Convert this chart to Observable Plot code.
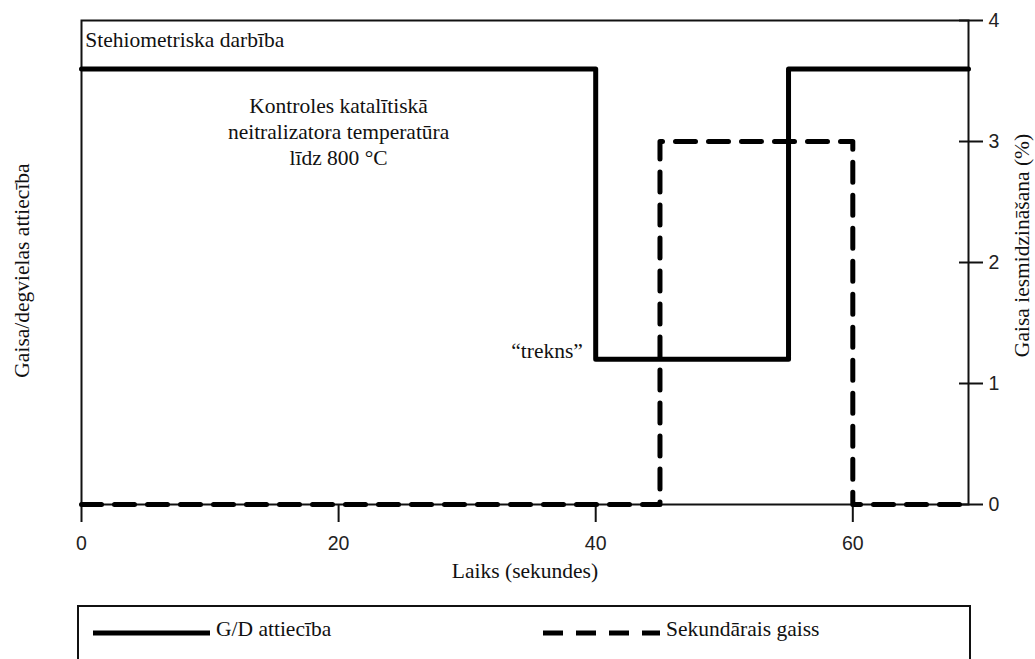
<!DOCTYPE html>
<html>
<head>
<meta charset="utf-8">
<script src="https://cdn.jsdelivr.net/npm/d3@7"></script>
<script src="https://cdn.jsdelivr.net/npm/@observablehq/plot@0.6"></script>
<style>
  html, body { margin: 0; padding: 0; background: #fff; }
  #wrap { position: relative; width: 1035px; height: 659px; overflow: hidden; }
  #chart svg { display: block; }
  #legend {
    position: absolute; left: 77px; top: 605px; width: 894px; height: 80px;
    border: 2px solid #111; box-sizing: border-box; background: #fff;
    font-family: "Liberation Serif", "Times New Roman", serif; font-size: 21.5px; color: #111;
  }
  .item { position: absolute; top: 10px; display: flex; align-items: center; }
  .item svg { display: block; margin-right: 6px; }
</style>
</head>
<body>
<div id="wrap">
  <div id="chart"></div>
  <div id="legend"></div>
</div>
<script>
// ---- data ----
const gdTime = [0, 40, 55, 69];
const gdValue = [3.6, 1.2, 3.6, 3.6];          // G/D attiecība (step)
const saTime = [0, 45, 60, 69];
const saValue = [0, 3, 0, 0];                  // Sekundārais gaiss (%)
const xTicks = [0, 20, 40, 60];
const yTicks = [0, 1, 2, 3, 4];
const xDomain = [0, 69];
const yDomain = [0, 4];

const seriesNames = ["G/D attiecība", "Sekundārais gaiss"];
const xTitle = "Laiks (sekundes)";
const yLeftTitle = "Gaisa/degvielas attiecība";
const yRightTitle = "Gaisa iesmidzināšana (%)";

const noteTop = ["Stehiometriska darbība"];
const noteTopPos = [{x: 0.3, y: 3.84}];
const noteMid = ["Kontroles katalītiskā\nneitralizatora temperatūra\nlīdz 800 °C"];
const noteMidPos = [{x: 20, y: 3.09}];
const noteRich = ["“trekns”"];
const noteRichPos = [{x: 39, y: 1.27}];

const gd = gdTime.map((t, i) => ({t, v: gdValue[i]}));
const sa = saTime.map((t, i) => ({t, v: saValue[i]}));

const serif = "'Liberation Serif', 'Times New Roman', serif";
const sans = "'Liberation Sans', Arial, sans-serif";
const fs = 21.5;
const tickFs = 19.5;

const chart = Plot.plot({
  width: 1035,
  height: 600,
  marginLeft: 81,
  marginRight: 67,
  marginTop: 20,
  marginBottom: 96,
  style: {background: "#fff", color: "#111", overflow: "visible"},
  x: {domain: xDomain},
  y: {domain: yDomain},
  marks: [
    Plot.frame({stroke: "#111", strokeWidth: 2}),
    Plot.axisX({ticks: xTicks, tickSize: 18, tickPadding: 14, strokeWidth: 2, label: null,
      tickFormat: d3.format("d"), fontFamily: sans, fontSize: tickFs, fill: "#222"}),
    Plot.axisY({anchor: "right", ticks: yTicks, tickSize: 14, tickPadding: 6, strokeWidth: 2, label: null,
      tickFormat: d3.format("d"), fontFamily: sans, fontSize: tickFs, fill: "#222"}),
    Plot.axisY({anchor: "right", ticks: yTicks, tickSize: 10, dx: -10, strokeWidth: 2, tickFormat: () => "", label: null}),
    Plot.line(gd, {x: "t", y: "v", curve: "step-after", stroke: "#000", strokeWidth: 5}),
    Plot.line(sa, {x: "t", y: "v", curve: "step-after", stroke: "#000", strokeWidth: 5, strokeDasharray: "20,13"}),
    Plot.text(noteTop, {x: noteTopPos.map(d => d.x), y: noteTopPos.map(d => d.y), text: d => d, textAnchor: "start", fontFamily: serif, fontSize: fs, fill: "#111"}),
    Plot.text(noteMid, {x: noteMidPos.map(d => d.x), y: noteMidPos.map(d => d.y), text: d => d, textAnchor: "middle", lineHeight: 1.22, fontFamily: serif, fontSize: fs, fill: "#111"}),
    Plot.text(noteRich, {x: noteRichPos.map(d => d.x), y: noteRichPos.map(d => d.y), text: d => d, textAnchor: "end", fontFamily: serif, fontSize: fs, fill: "#111"}),
    Plot.text([xTitle], {frameAnchor: "bottom", dy: 73, text: d => d, textAnchor: "middle", fontFamily: serif, fontSize: fs, fill: "#111"}),
    Plot.text([yLeftTitle], {frameAnchor: "left", dx: -59, dy: 8, rotate: -90, text: d => d, textAnchor: "middle", fontFamily: serif, fontSize: fs, fill: "#111"}),
    Plot.text([yRightTitle], {frameAnchor: "right", dx: 54, dy: -17, rotate: -90, text: d => d, textAnchor: "middle", fontFamily: serif, fontSize: fs, fill: "#111"})
  ]
});
// axis tick labels in a sans face, like the reference
d3.select(chart).selectAll('g[aria-label*="axis"] text')
  .style("font-size", tickFs + "px").style("font-family", sans).style("fill", "#222");
document.getElementById("chart").appendChild(chart);

// ---- legend ----
const legend = d3.select("#legend");
const items = [
  {name: seriesNames[0], dash: null, left: 14},
  {name: seriesNames[1], dash: "20,13", left: 464}
];
for (const it of items) {
  const div = legend.append("div").attr("class", "item").style("left", it.left + "px");
  const s = div.append("svg").attr("width", 117).attr("height", 20);
  s.append("line").attr("x1", 0).attr("x2", 117).attr("y1", 13).attr("y2", 13)
    .attr("stroke", "#000").attr("stroke-width", 5)
    .attr("stroke-dasharray", it.dash);
  div.append("span").text(it.name);
}
</script>
</body>
</html>
